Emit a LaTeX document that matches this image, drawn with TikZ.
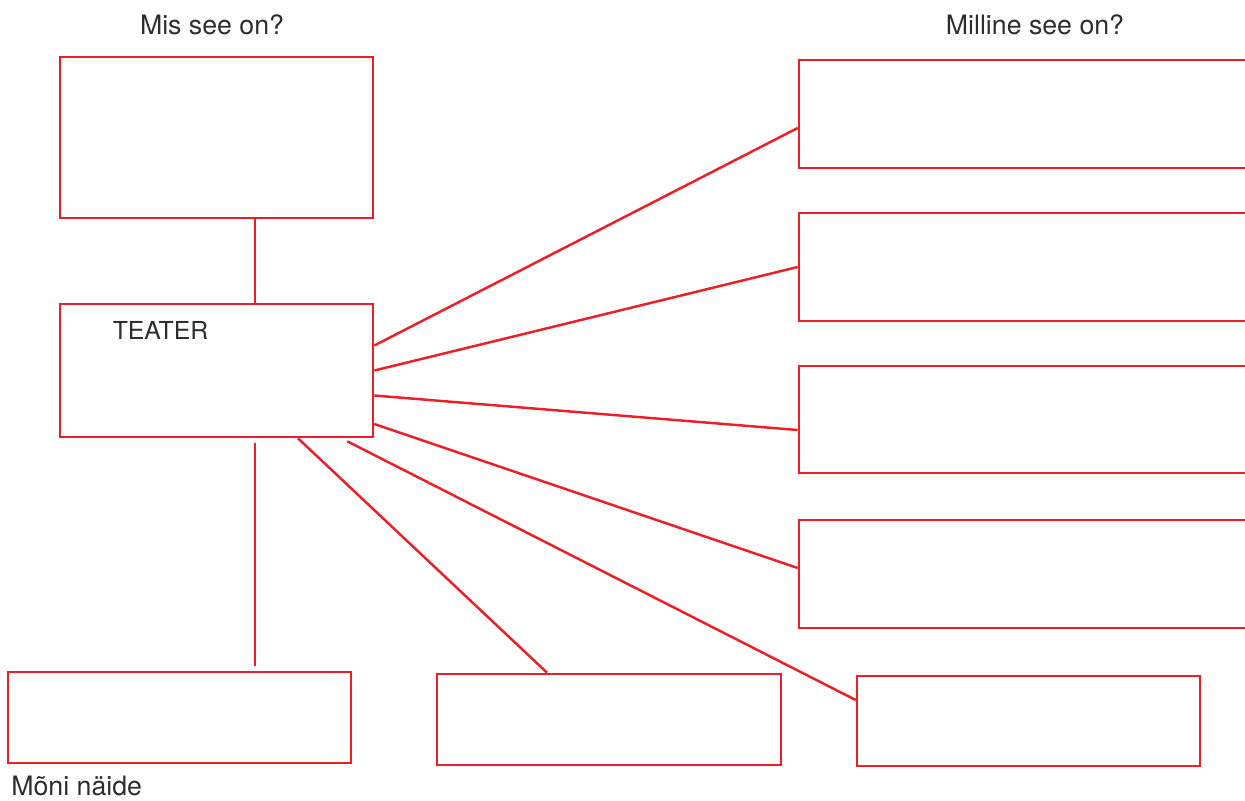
\documentclass[tikz,border=0pt]{standalone}
\usepackage{fontspec}
\setmainfont{TeX Gyre Heros}
\definecolor{teaterred}{RGB}{237,30,38}
\definecolor{teatergray}{RGB}{45,45,45}
\tikzset{
  box/.style={draw=teaterred, line width=1.5pt, inner sep=0pt},
  link/.style={draw=teaterred, line width=1.4pt},
  txt/.style={text=teatergray, font=\fontsize{15.2}{17}\selectfont, inner sep=0pt}
}

\begin{document}
\begin{tikzpicture}[x=0.2mm, y=-0.2mm]
\useasboundingbox (0,0) rectangle (1245,800);
\clip (0,0) rectangle (1245,800);
% headings
\node[txt] (whatlabel) at (212,25) {Mis see on?};
\node[txt] (howlabel) at (1035,25) {Milline see on?};
% left column
\node[box, minimum width=62.6mm, minimum height=32.2mm] (what) at (216.5,137.5) {};
\node[box, minimum width=62.6mm, minimum height=26.6mm] (teater) at (216.5,370.5) {};
\node[txt, font=\fontsize{14.1}{16}\selectfont] (teaterlabel) at (160.5,330) {TEATER};
% right column, open on the right
\node[box, minimum width=100.2mm, minimum height=21.6mm] (how1) at (1049.5,114) {};
\node[box, minimum width=100.2mm, minimum height=21.6mm] (how2) at (1049.5,267) {};
\node[box, minimum width=100.2mm, minimum height=21.4mm] (how3) at (1049.5,419.5) {};
\node[box, minimum width=100.2mm, minimum height=21.6mm] (how4) at (1049.5,574) {};
% bottom row
\node[box, minimum width=68.6mm, minimum height=18.2mm] (ex1) at (179.5,717.5) {};
\node[box, minimum width=68.8mm, minimum height=18.2mm] (ex2) at (609,719.5) {};
\node[box, minimum width=68.6mm, minimum height=18mm] (ex3) at (1028.5,721) {};
\node[txt, anchor=base west] (examplelabel) at (11,795) {Mõni näide};

\draw[link] ([xshift=7.7mm]what.south) -- ([xshift=7.7mm]teater.north);
\draw[link] ([yshift=5mm]teater.east) -- ([yshift=-2.8mm]how1.west);
\draw[link] (teater.east) -- (how2.west);
\draw[link] ([yshift=-5mm]teater.east) -- ([yshift=-2.1mm]how3.west);
\draw[link] ([yshift=-10.7mm]teater.east) -- ([yshift=1.2mm]how4.west);
\draw[link, shorten <=1mm, shorten >=1mm] ([xshift=7.7mm]teater.south) -- ([xshift=7.7mm]teater.south |- ex1.north);
\draw[link] ([xshift=16.3mm]teater.south) -- ([xshift=-12.4mm]ex2.north);
\draw[link] ([xshift=-5.4mm,yshift=-0.6mm]teater.south east) -- ([yshift=4.2mm]ex3.west);
\end{tikzpicture}
\end{document}
